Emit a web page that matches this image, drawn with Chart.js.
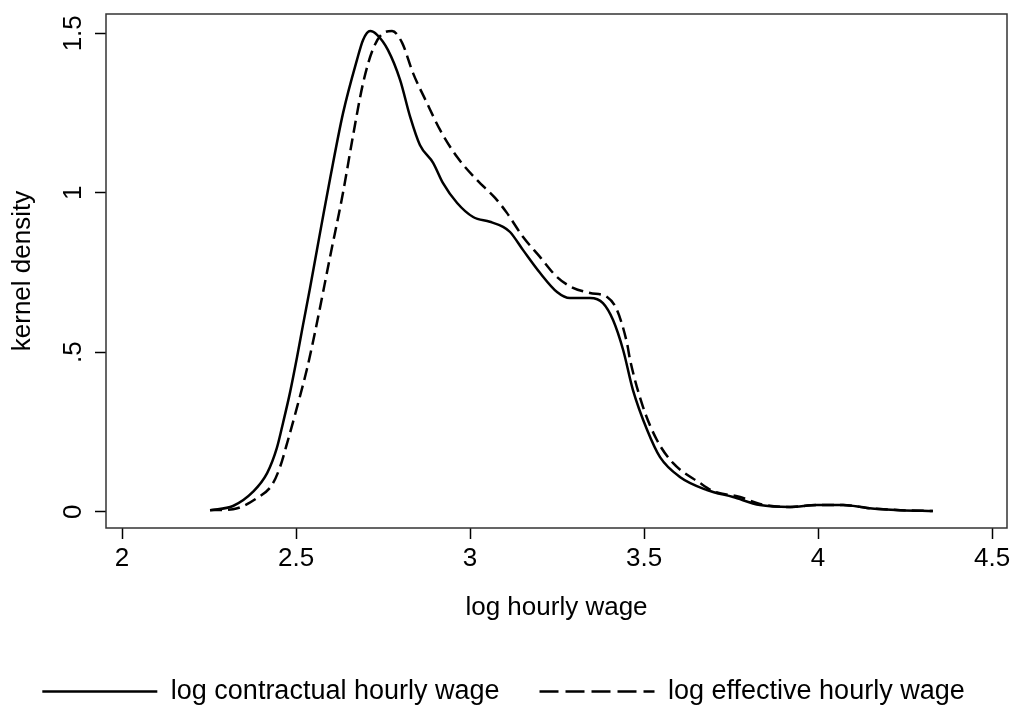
<!DOCTYPE html>
<html>
<head>
<meta charset="utf-8">
<script src="https://cdn.jsdelivr.net/npm/chart.js@4.4.1/dist/chart.umd.min.js"></script>
<style>
    html, body { margin: 0; padding: 0; background: #fff; }
    #wrap { width: 1013px; height: 715px; }
</style>
</head>
<body>
<div id="wrap"><canvas id="density_chart" width="1013" height="715"></canvas></div>
<script>
// kernel density of log contractual hourly wage (solid)
var contractX = [2.253, 2.319, 2.376, 2.417, 2.445, 2.463, 2.483, 2.503, 2.520, 2.540, 2.560, 2.580, 2.598, 2.635, 2.675, 2.693, 2.713, 2.733, 2.764, 2.799, 2.828, 2.856, 2.894, 2.922, 2.963, 3.009, 3.057, 3.095, 3.115, 3.152, 3.201, 3.250, 3.287, 3.345, 3.382, 3.411, 3.440, 3.468, 3.509, 3.546, 3.603, 3.681, 3.756, 3.833, 3.920, 3.997, 4.072, 4.141, 4.236, 4.330];
var contractY = [0.005, 0.018, 0.062, 0.121, 0.200, 0.280, 0.375, 0.485, 0.585, 0.700, 0.820, 0.940, 1.045, 1.249, 1.416, 1.480, 1.507, 1.495, 1.448, 1.354, 1.238, 1.150, 1.094, 1.031, 0.968, 0.924, 0.909, 0.893, 0.877, 0.821, 0.749, 0.689, 0.670, 0.670, 0.654, 0.601, 0.507, 0.382, 0.256, 0.171, 0.109, 0.068, 0.046, 0.021, 0.015, 0.021, 0.021, 0.012, 0.005, 0.002];

// kernel density of log effective hourly wage (dashed)
var effectiveX = [2.253, 2.319, 2.388, 2.431, 2.454, 2.477, 2.503, 2.532, 2.555, 2.598, 2.635, 2.664, 2.693, 2.721, 2.750, 2.776, 2.805, 2.836, 2.876, 2.914, 2.963, 3.020, 3.072, 3.106, 3.152, 3.201, 3.250, 3.296, 3.345, 3.394, 3.422, 3.451, 3.460, 3.497, 3.537, 3.583, 3.661, 3.698, 3.776, 3.833, 3.920, 3.997, 4.072, 4.141, 4.236, 4.330];
var effectiveY = [0.005, 0.008, 0.043, 0.084, 0.140, 0.225, 0.328, 0.450, 0.565, 0.800, 1.000, 1.180, 1.345, 1.450, 1.500, 1.507, 1.470, 1.376, 1.282, 1.197, 1.112, 1.040, 0.984, 0.937, 0.862, 0.799, 0.736, 0.702, 0.686, 0.673, 0.633, 0.529, 0.476, 0.329, 0.225, 0.153, 0.090, 0.065, 0.046, 0.024, 0.015, 0.021, 0.021, 0.012, 0.005, 0.002];

var xTicks = [2, 2.5, 3, 3.5, 4, 4.5];
var xTickLabels = ['2', '2.5', '3', '3.5', '4', '4.5'];
var yTicks = [0, 0.5, 1, 1.5];
var yTickLabels = ['0', '.5', '1', '1.5'];

function toPoints(xs, ys) {
    return xs.map(function (x, i) { return {x: x, y: ys[i]}; });
}

Chart.defaults.font.family = '"Liberation Sans", Arial, sans-serif';
Chart.defaults.font.size = 26;
Chart.defaults.color = '#000';

// frame round the plot region
var plotBox = {
    id: 'plotBox',
    afterDraw: function (chart) {
        var a = chart.chartArea;
        var ctx = chart.ctx;
        ctx.save();
        ctx.strokeStyle = '#333';
        ctx.lineWidth = 1.5;
        ctx.strokeRect(a.left, a.top, a.right - a.left, a.bottom - a.top);
        ctx.restore();
    }
};

new Chart(document.getElementById('density_chart'), {
    type: 'scatter',
    data: {
        datasets: [
            {
                label: 'log contractual hourly wage',
                data: toPoints(contractX, contractY),
                showLine: true,
                borderColor: '#000',
                backgroundColor: '#000',
                borderWidth: 2.5,
                pointRadius: 0,
                cubicInterpolationMode: 'monotone'
            },
            {
                label: 'log effective hourly wage',
                data: toPoints(effectiveX, effectiveY),
                showLine: true,
                borderColor: '#000',
                backgroundColor: '#000',
                borderWidth: 2.5,
                borderDash: [12, 6],
                pointRadius: 0,
                cubicInterpolationMode: 'monotone'
            }
        ]
    },
    options: {
        responsive: false,
        devicePixelRatio: 1,
        animation: false,
        layout: { padding: { top: 14, right: 6, left: 0, bottom: 0 } },
        plugins: {
            tooltip: { enabled: false },
            legend: {
                position: 'bottom',
                labels: {
                    usePointStyle: true,
                    pointStyle: 'line',
                    pointStyleWidth: 115,
                    padding: 40,
                    color: '#000',
                    font: { size: 27 },
                    // point style legends lose the dash, put it back
                    generateLabels: function (chart) {
                        var items = Chart.defaults.plugins.legend.labels.generateLabels(chart);
                        items.forEach(function (it) {
                            var ds = chart.data.datasets[it.datasetIndex];
                            it.lineDash = ds.borderDash ? [19, 7] : [];
                        });
                        return items;
                    }
                }
            }
        },
        scales: {
            x: {
                type: 'linear',
                min: 1.954,
                max: 4.543,
                afterBuildTicks: function (s) { s.ticks = xTicks.map(function (v) { return {value: v}; }); },
                afterFit: function (s) { s.height = 110; s.paddingLeft = 0; s.paddingRight = 0; },
                grid: { drawOnChartArea: false, drawTicks: true, tickLength: 11, tickColor: '#000', tickWidth: 1.5 },
                border: { display: false },
                ticks: {
                    padding: 4,
                    maxRotation: 0,
                    autoSkip: false,
                    color: '#000',
                    callback: function (v, i) { return xTickLabels[i]; }
                },
                title: { display: true, text: 'log hourly wage', color: '#000', padding: { top: 0, bottom: 15 } }
            },
            y: {
                type: 'linear',
                min: -0.051,
                max: 1.5605,
                afterBuildTicks: function (s) { s.ticks = yTicks.map(function (v) { return {value: v}; }); },
                afterFit: function (s) { s.width = 106; s.paddingTop = 0; s.paddingBottom = 0; },
                grid: { drawOnChartArea: false, drawTicks: true, tickLength: 11, tickColor: '#000', tickWidth: 1.5 },
                border: { display: false },
                ticks: {
                    minRotation: 90,
                    maxRotation: 90,
                    crossAlign: 'center',
                    padding: 3,
                    color: '#000',
                    callback: function (v, i) { return yTickLabels[i]; }
                },
                title: { display: true, text: 'kernel density', color: '#000', padding: { top: 7, bottom: 0 } }
            }
        }
    },
    plugins: [plotBox]
});
</script>
</body>
</html>
